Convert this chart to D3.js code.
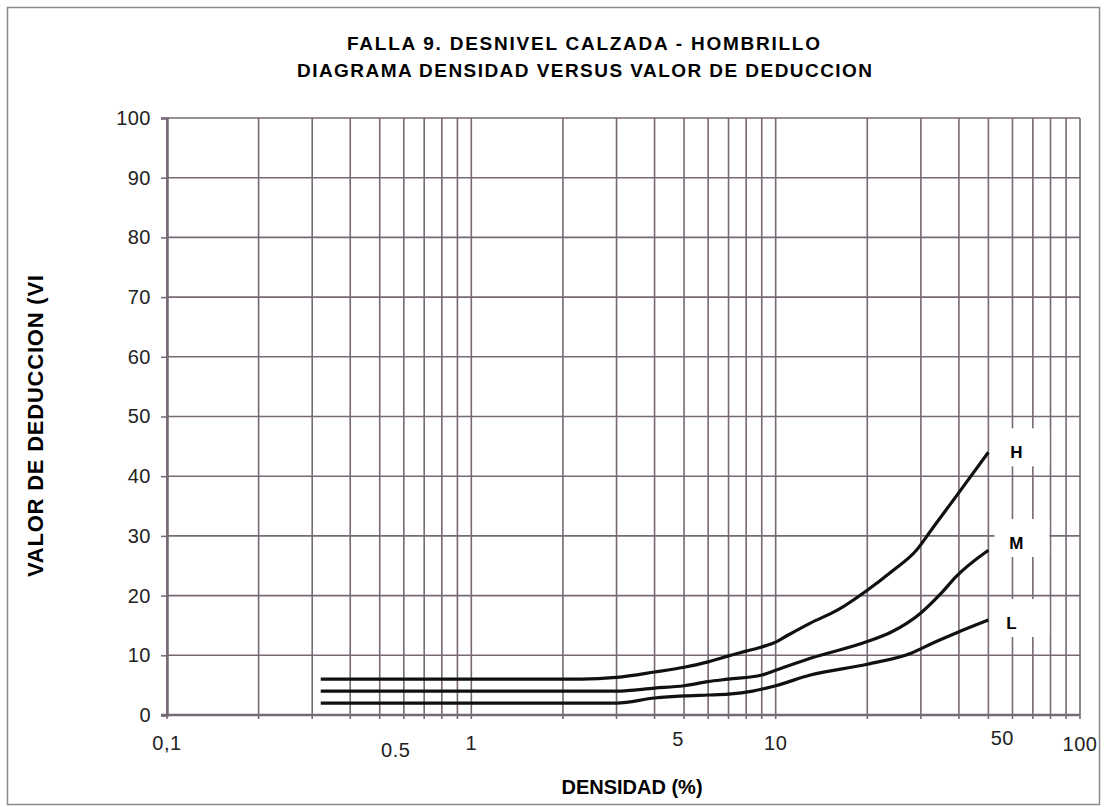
<!DOCTYPE html>
<html>
<head>
<meta charset="utf-8">
<script src="https://cdn.jsdelivr.net/npm/d3@7"></script>
<style>
  body { margin: 0; background: #fff; }
  svg { display: block; font-family: "Liberation Sans", Arial, sans-serif; }
</style>
</head>
<body>
<svg id="chart" width="1104" height="807"></svg>
<script>
// Chart values.
var titleLines = ["FALLA 9. DESNIVEL CALZADA - HOMBRILLO", "DIAGRAMA DENSIDAD VERSUS VALOR DE DEDUCCION"];
var xTitle = "DENSIDAD (%)";
var yTitle = "VALOR DE DEDUCCION  (VI";

var yTicks = [0, 10, 20, 30, 40, 50, 60, 70, 80, 90, 100];
var xTickValues = [0.1, 0.5, 1, 5, 10, 50, 100];
var xTickLabels = ["0,1", "0.5", "1", "5", "10", "50", "100"];

// density (%) / deduct value pairs for each severity level
var densH = [0.32, 2.3, 3, 4, 5, 6, 7, 8, 9, 10, 11, 13, 16, 20, 24, 29, 33, 39, 50];
var valH  = [6, 6, 6.3, 7.2, 8.0, 8.9, 9.9, 10.7, 11.4, 12.2, 13.4, 15.4, 17.6, 20.9, 24, 27.6, 31.5, 36.5, 44];
var densM = [0.32, 3, 4, 5, 6, 7, 9, 10, 13, 20, 24, 30, 35, 39, 50];
var valM  = [4, 4, 4.5, 4.9, 5.6, 6.0, 6.7, 7.5, 9.5, 12.3, 13.9, 17.1, 20.4, 23.1, 27.6];
var densL = [0.32, 3, 4, 5, 6, 7, 8.4, 10, 13, 20, 28, 33, 39, 50];
var valL  = [2, 2, 2.85, 3.2, 3.35, 3.5, 4.0, 4.9, 6.7, 8.5, 10.4, 12.1, 13.7, 15.9];
var seriesNames = ["H", "M", "L"];
// where each letter sits, in deduct-value units
var seriesLabelVals = [44, 28.8, 15.4];

// layout (plot box in pixels)
var plotLeft = 167, plotRight = 1080, plotTop = 118, plotBottom = 715;
var gridColor = "#766874";

var svg = d3.select("#chart");

var x = d3.scaleLog().domain([0.1, 100]).range([plotLeft, plotRight]);
var y = d3.scaleLinear().domain([0, 100]).range([plotBottom, plotTop]);

// outer frame
svg.append("rect")
    .attr("x", 7.5).attr("y", 7.5)
    .attr("width", 1092).attr("height", 797)
    .attr("fill", "none")
    .attr("stroke", "#8a8a8a")
    .attr("stroke-width", 1.5);

// title, stretched like the scan
svg.append("text")
    .attr("x", 347).attr("y", 50)
    .attr("textLength", 473).attr("lengthAdjust", "spacing")
    .style("font-size", "19px").style("font-weight", "bold")
    .text(titleLines[0]);
svg.append("text")
    .attr("x", 297).attr("y", 77)
    .attr("textLength", 575).attr("lengthAdjust", "spacing")
    .style("font-size", "19px").style("font-weight", "bold")
    .text(titleLines[1]);

// vertical log gridlines (1..9 per decade)
var grid = svg.append("g").attr("class", "grid");
grid.selectAll("line.v")
    .data(x.ticks())
    .enter().append("line")
    .attr("class", "v")
    .attr("x1", d => x(d)).attr("x2", d => x(d))
    .attr("y1", plotTop).attr("y2", plotBottom + 4)
    .attr("stroke", gridColor)
    .attr("stroke-width", 1.6);

// horizontal gridlines
grid.selectAll("line.h")
    .data(yTicks.slice(1))
    .enter().append("line")
    .attr("class", "h")
    .attr("x1", plotLeft).attr("x2", plotRight)
    .attr("y1", d => y(d)).attr("y2", d => y(d))
    .attr("stroke", gridColor)
    .attr("stroke-width", 1.6);

// y axis with small outside ticks
var yAxis = svg.append("g")
    .attr("transform", "translate(" + plotLeft + ",0)")
    .call(d3.axisLeft(y).tickValues(yTicks).tickSize(6).tickPadding(10));
yAxis.select(".domain").attr("stroke", gridColor).attr("stroke-width", 2.5);
yAxis.selectAll(".tick line").attr("stroke", gridColor).attr("stroke-width", 1.5);
yAxis.selectAll(".tick text")
    .attr("fill", "#222")
    .style("font-size", "20px")
    .style("letter-spacing", "0.5px");

// x axis line
svg.append("line")
    .attr("x1", plotLeft - 6).attr("x2", plotRight)
    .attr("y1", plotBottom).attr("y2", plotBottom)
    .attr("stroke", gridColor)
    .attr("stroke-width", 2.5);

// x tick labels, nudged where the scan has them off the gridline
var xLabelShift = {"0.5": [16, 7], "5": [-6, -4], "50": [14, -5], "100": [0, 1]};
svg.append("g").selectAll("text")
    .data(xTickValues)
    .enter().append("text")
    .attr("x", (d, i) => x(d) + ((xLabelShift[xTickLabels[i]] || [0, 0])[0]))
    .attr("y", (d, i) => 750 + ((xLabelShift[xTickLabels[i]] || [0, 0])[1]))
    .attr("text-anchor", "middle")
    .attr("fill", "#222")
    .style("font-size", "20px")
    .style("letter-spacing", "0.5px")
    .text((d, i) => xTickLabels[i]);

// white patches over the grid behind H, M, L
svg.append("g").selectAll("rect")
    .data(seriesLabelVals)
    .enter().append("rect")
    .attr("x", x(50) + 6).attr("y", d => y(d) - 24)
    .attr("width", 55).attr("height", 38)
    .attr("fill", "#fff");

// curves
var line = d3.line()
    .x(d => x(d[0]))
    .y(d => y(d[1]))
    .curve(d3.curveMonotoneX);

var series = [d3.zip(densH, valH), d3.zip(densM, valM), d3.zip(densL, valL)];
svg.append("g").selectAll("path")
    .data(series)
    .enter().append("path")
    .attr("d", line)
    .attr("fill", "none")
    .attr("stroke", "#111")
    .attr("stroke-width", 3.2)
    .attr("stroke-linejoin", "round");

// series labels
svg.append("g").selectAll("text")
    .data(seriesNames)
    .enter().append("text")
    .attr("x", (d, i) => x(50) + (i === 2 ? 23 : 28))
    .attr("y", (d, i) => y(seriesLabelVals[i]) + 6)
    .attr("text-anchor", "middle")
    .style("font-size", "17px")
    .style("font-weight", "bold")
    .text(d => d);

// axis titles
svg.append("text")
    .attr("x", 632).attr("y", 794)
    .attr("text-anchor", "middle")
    .style("font-size", "20px").style("font-weight", "bold")
    .text(xTitle);

svg.append("text")
    .attr("transform", "translate(43,426) rotate(-90)")
    .attr("text-anchor", "middle")
    .attr("textLength", 302).attr("lengthAdjust", "spacing")
    .style("font-size", "22px").style("font-weight", "bold")
    .text(yTitle);
</script>
</body>
</html>
